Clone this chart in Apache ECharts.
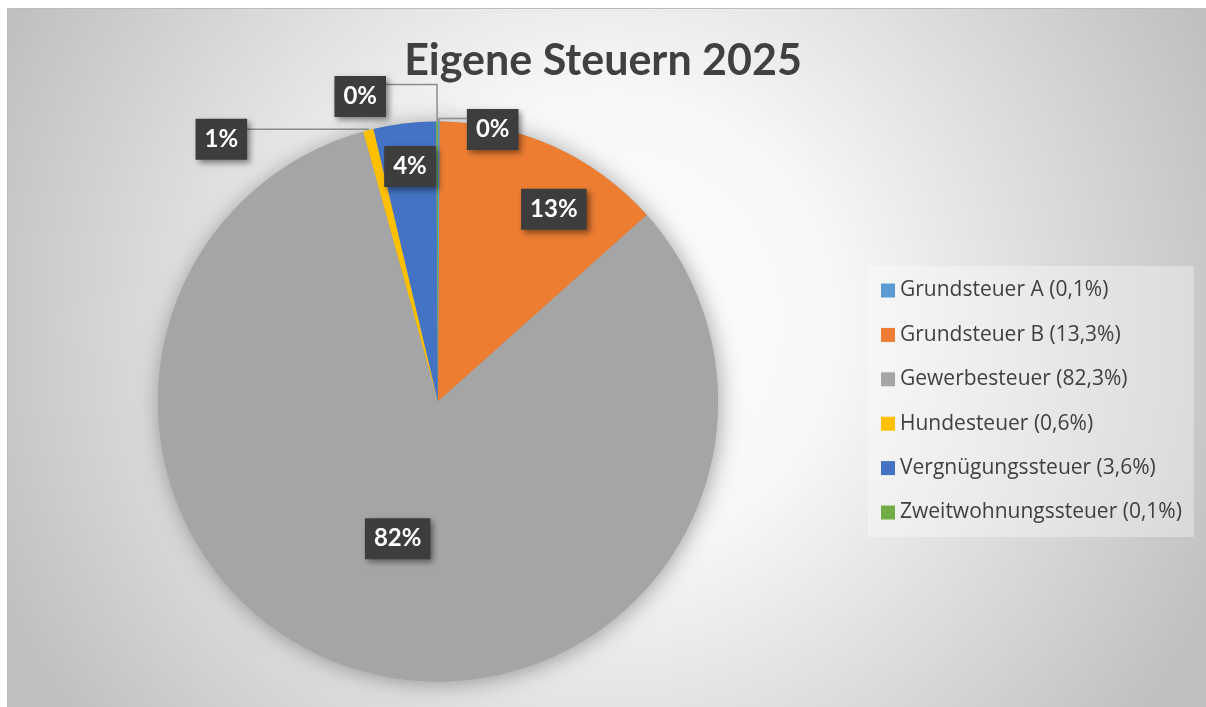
<!DOCTYPE html>
<html>
<head>
<meta charset="utf-8">
<script src="https://cdn.jsdelivr.net/npm/echarts@6/dist/echarts.min.js"></script>
<style>
  html, body { margin: 0; padding: 0; background: #fff; }
  #chart { width: 1206px; height: 707px; }
</style>
</head>
<body>
<div id="chart"></div>
<script>
// data (Anteile in %)
const names = [
  "Grundsteuer A",
  "Grundsteuer B",
  "Gewerbesteuer",
  "Hundesteuer",
  "Vergnügungssteuer",
  "Zweitwohnungssteuer",
];
const values = [0.1, 13.3, 82.3, 0.6, 3.6, 0.1];
const colors = ["#5B9BD5", "#ED7D31", "#A5A5A5", "#FFC000", "#4472C4", "#70AD47"];

// which labels sit outside with a leader line, and how long that line is
const outside = [true, false, false, true, false, true];
const lineLen = [3, 0, 0, 1, 0, 37];
const lineLen2 = [28, 0, 0, 121, 0, 51];
// nudges for the labels (Excel "best fit" spots)
const nudge = [{ dy: 11 }, { dx: 57, dy: -62 }, { dx: 0, dy: 0 }, { dy: 10 }, { dx: -11, dy: -93 }, { dy: 12 }];

const fmtPct = (v) => v.toFixed(1).replace(".", ",");

const labelBox = {
  color: "#fff",
  fontFamily: "Lato, 'Open Sans', sans-serif",
  fontWeight: "bold",
  fontSize: 24,
  backgroundColor: "#3d3d3d",
  padding: [9, 9, 8, 9],
  shadowBlur: 6,
  shadowColor: "rgba(0,0,0,0.45)",
  shadowOffsetX: 3,
  shadowOffsetY: 3,
};

const chart = echarts.init(document.getElementById("chart"));

const pieData = names.map((n, i) => {
  const item = {
    name: n,
    value: values[i],
    itemStyle: { color: colors[i] },
  };
  if (outside[i]) {
    item.label = { position: "outside", distanceToLabelLine: 0 };
    item.labelLine = { show: true, length: lineLen[i], length2: lineLen2[i] };
  } else {
    item.label = { position: "inside" };
    item.labelLine = { show: false };
  }
  return item;
});

const option = {
  animation: false,
  graphic: [
    {
      type: "rect",
      left: 7,
      top: 8,
      z: -10,
      silent: true,
      shape: { width: 1199, height: 699 },
      style: {
        fill: new echarts.graphic.RadialGradient(0.5, 0.45, 0.95, [
          { offset: 0, color: "#ffffff" },
          { offset: 0.35, color: "#f7f7f7" },
          { offset: 1, color: "#c0c0c0" },
        ]),
        stroke: "#bcbcbc",
        lineWidth: 1,
      },
    },
  ],
  title: {
    text: "Eigene Steuern 2025",
    left: "center",
    top: 35,
    textStyle: {
      fontFamily: "Lato, 'Open Sans', sans-serif",
      fontWeight: "bold",
      fontSize: 43,
      color: "#404040",
    },
  },
  legend: {
    orient: "vertical",
    left: 868,
    top: 266,
    data: names,
    icon: "rect",
    itemWidth: 14,
    itemHeight: 14,
    itemGap: 23.4,
    padding: [14, 12, 14, 13],
    backgroundColor: "rgba(255,255,255,0.35)",
    formatter: (name) => `${name} (${fmtPct(values[names.indexOf(name)])}%)`,
    textStyle: {
      fontFamily: "'Open Sans', Lato, sans-serif",
      fontSize: 21,
      lineHeight: 20,
      color: "#404040",
    },
  },
  series: [
    {
      type: "pie",
      center: [438, 401.5],
      radius: 280,
      startAngle: 90,
      clockwise: true,
      avoidLabelOverlap: false,
      z: 3,
      label: Object.assign({ show: true, formatter: (p) => Math.round(p.value) + "%" }, labelBox),
      labelLine: {
        lineStyle: { color: "#8c8c8c", width: 1.5 },
      },
      labelLayout: (p) => nudge[p.dataIndex] || {},
      emphasis: { disabled: true },
      data: pieData,
    },
    {
      // shadow under the whole pie
      type: "pie",
      center: [438, 401.5],
      radius: 280,
      silent: true,
      z: 1,
      label: { show: false },
      labelLine: { show: false },
      itemStyle: {
        color: "#a5a5a5",
        shadowBlur: 22,
        shadowColor: "rgba(0,0,0,0.35)",
        shadowOffsetX: 2,
        shadowOffsetY: 2,
      },
      emphasis: { disabled: true },
      data: values,
    },
  ],
};

chart.setOption(option);
</script>
</body>
</html>
